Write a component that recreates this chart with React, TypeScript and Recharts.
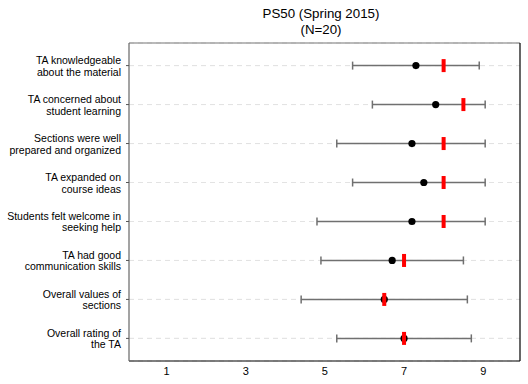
import React from "react";
import {
  ScatterChart,
  Scatter,
  XAxis,
  YAxis,
  CartesianGrid,
  ErrorBar,
  ReferenceLine,
} from "recharts";

// items, top to bottom (two-line labels)
const items = [
  ["TA knowledgeable", "about the material"],
  ["TA concerned about", "student learning"],
  ["Sections were well", "prepared and organized"],
  ["TA expanded on", "course ideas"],
  ["Students felt welcome in", "seeking help"],
  ["TA had good", "communication skills"],
  ["Overall values of", "sections"],
  ["Overall rating of", "the TA"],
];
const means = [7.3, 7.8, 7.2, 7.5, 7.2, 6.7, 6.5, 7.0];
const medians = [8.0, 8.5, 8.0, 8.0, 8.0, 7.0, 6.5, 7.0];
const lows = [5.7, 6.2, 5.3, 5.7, 4.8, 4.9, 4.4, 5.3];
const highs = [8.9, 9.05, 9.05, 9.05, 9.05, 8.5, 8.6, 8.7];
const xTicks = [1, 3, 5, 7, 9];

const X_DOMAIN: [number, number] = [0.05, 9.93];
const Y_DOMAIN: [number, number] = [0.42, 8.58];
const FONT = "'Liberation Sans', Arial, sans-serif";

const meanPts = means.map((m, i) => ({
  x: m,
  y: i + 1,
  err: [m - lows[i], highs[i] - m],
}));
const medianPts = medians.map((m, i) => ({ x: m, y: i + 1 }));

const YTick = (props: any) => {
  const { x, y, payload } = props;
  const lines = items[payload.value - 1] || [];
  return (
    <text x={x} y={y} textAnchor="end" fontSize={10.5} fill="#000" fontFamily={FONT}>
      <tspan x={x} dy={-1.5}>{lines[0]}</tspan>
      <tspan x={x} dy={11.5}>{lines[1]}</tspan>
    </text>
  );
};

const Dot = (props: any) => <circle cx={props.cx} cy={props.cy} r={3.6} fill="#000" />;
const Bar = (props: any) => (
  <rect x={props.cx - 2} y={props.cy - 6.5} width={4} height={13} fill="#ff0000" />
);

export default function App() {
  return (
    <div style={{ position: "absolute", left: 0, top: 0, width: 528, height: 384, background: "#fff" }}>
      <div
        style={{
          position: "absolute",
          left: 221,
          width: 200,
          top: 6,
          textAlign: "center",
          fontFamily: FONT,
          fontSize: 13.3,
          lineHeight: "16px",
          color: "#000",
        }}
      >
        PS50 (Spring 2015)
        <br />
        (N=20)
      </div>
      <ScatterChart
        width={528}
        height={384}
        margin={{ top: 43, right: 8, bottom: 0, left: 0 }}
      >
        <CartesianGrid
          vertical={false}
          horizontalPoints={[]}
          stroke="#e3e3e3"
          strokeDasharray="5 4"
        />
        <XAxis
          type="number"
          dataKey="x"
          domain={X_DOMAIN}
          allowDataOverflow
          ticks={xTicks}
          height={23}
          tickLine={false}
          tickSize={0}
          tickMargin={6}
          axisLine={{ stroke: "#000", strokeWidth: 1.2 }}
          tick={{ fontSize: 11, fill: "#000", fontFamily: FONT }}
        />
        <YAxis
          type="number"
          dataKey="y"
          domain={Y_DOMAIN}
          allowDataOverflow
          reversed
          ticks={[1, 2, 3, 4, 5, 6, 7, 8]}
          width={129}
          tickSize={3}
          tickMargin={5}
          tickLine={{ stroke: "#555" }}
          axisLine={{ stroke: "#666", strokeWidth: 1.2 }}
          tick={<YTick />}
        />
        {/* row guides */}
        {items.map((_, i) => (
          <ReferenceLine
            key={i}
            y={i + 1}
            stroke="#e3e3e3"
            strokeDasharray="5 4"
          />
        ))}
        {/* box: top and right edges */}
        <ReferenceLine y={Y_DOMAIN[0]} stroke="#777" strokeWidth={1.2} ifOverflow="extendDomain" />
        <ReferenceLine x={X_DOMAIN[1]} stroke="#000" strokeWidth={1.2} ifOverflow="extendDomain" />
        <Scatter data={meanPts} shape={<Dot />} isAnimationActive={false}>
          <ErrorBar
            dataKey="err"
            direction="x"
            width={4}
            stroke="#707070"
            strokeWidth={1.5}
            isAnimationActive={false}
          />
        </Scatter>
        <Scatter data={medianPts} shape={<Bar />} isAnimationActive={false} />
      </ScatterChart>
    </div>
  );
}
